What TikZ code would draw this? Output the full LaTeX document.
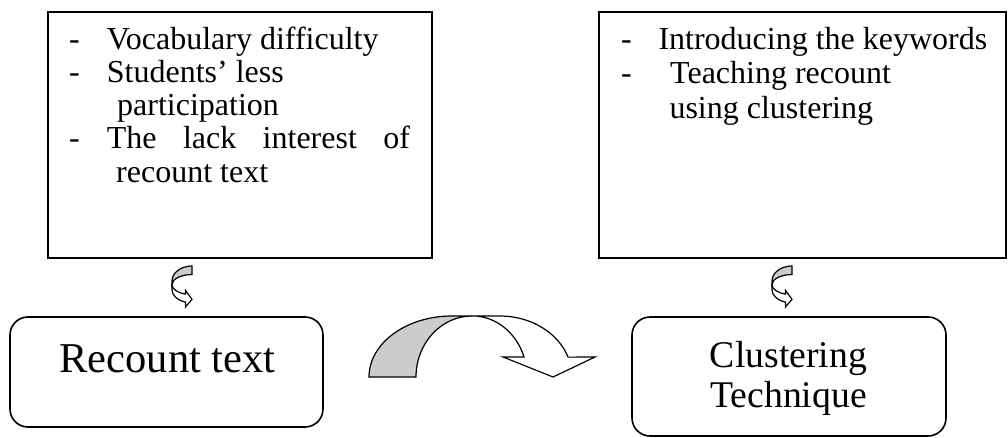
\documentclass[tikz,border=0pt]{standalone}
\usepackage{fontspec}
\setmainfont{Liberation Serif}
\begin{document}
\begin{tikzpicture}[x=1pt,y=1pt,
  box/.style={draw, line width=1.6pt, inner sep=0pt, outer sep=0pt},
  rbox/.style={box, rounded corners=18pt},
  txt/.style={anchor=base west, inner sep=0pt, font=\fontsize{32}{33}\selectfont},
  bigtxt/.style={anchor=base, inner sep=0pt, font=\fontsize{42.5}{44}\selectfont},
  midtxt/.style={anchor=base, inner sep=0pt, font=\fontsize{37.7}{40}\selectfont},
  arrowshape/.style={draw, line width=1.2pt, line join=miter},
  backface/.style={arrowshape, fill=gray!40},
  frontface/.style={arrowshape, fill=white}
]
\useasboundingbox (0,0) rectangle (1008,-438);

% frames
\node[box, minimum width=384pt, minimum height=246pt] (problems) at (240,-135) {};
\node[box, minimum width=407pt, minimum height=246pt] (actions) at (802.5,-135) {};
\node[rbox, minimum width=313pt, minimum height=110pt] (recountbox) at (166.5,-372) {};
\node[rbox, minimum width=314pt, minimum height=119pt] (clusterbox) at (789,-376.5) {};

% problem list
\node[txt] (pd1) at (69,-49.3) {-};
\node[txt] (p1) at (106.7,-49.3) {Vocabulary difficulty};
\node[txt] (pd2) at (69,-82.3) {-};
\node[txt] (p2) at (106.7,-82.3) {Students’ less};
\node[txt] (p2b) at (117,-115.3) {participation};
\node[txt] (pd3) at (69,-148.3) {-};
\node[txt] (p3) at (106.7,-148.3) {\makebox[303pt][s]{The lack interest of}};
\node[txt] (p3b) at (116,-182.3) {recount text};

% action list
\node[txt] (ad1) at (621,-49.3) {-};
\node[txt] (a1) at (658.3,-49.3) {Introducing the keywords};
\node[txt] (ad2) at (621,-83.3) {-};
\node[txt] (a2) at (670,-83.3) {Teaching recount};
\node[txt] (a2b) at (669.3,-118.3) {using clustering};

% bottom labels
\node[bigtxt] (recount) at (167.5,-372) {Recount text};
\node[midtxt] (cluster1) at (788.5,-367) {Clustering};
\node[midtxt] (cluster2) at (788.5,-407) {Technique};

% curved block arrow between the two bottom boxes
\begin{scope}[shift={(369,-377)}]
  \path[backface] (0,0) arc[start angle=180, end angle=90, x radius=83, y radius=61]
    -- (103,61) arc[start angle=90, end angle=180, x radius=56, y radius=61] -- cycle;
  \path[frontface] (103,61) -- (131,61)
    arc[start angle=90, end angle=19, x radius=72, y radius=61]
    -- (226,20) -- (184,0) -- (134,20) -- (155,20)
    arc[start angle=19, end angle=90, x radius=55, y radius=61] -- cycle;
\end{scope}

% small curved arrows under the upper frames
\foreach \sx in {192,792}{
\begin{scope}[cm={0,-0.1814,-0.328,0,(\sx,-266)}]
  \path[backface] (0,0) arc[start angle=180, end angle=90, x radius=83, y radius=61]
    -- (103,61) arc[start angle=90, end angle=180, x radius=56, y radius=61] -- cycle;
  \path[frontface] (103,61) -- (131,61)
    arc[start angle=90, end angle=19, x radius=72, y radius=61]
    -- (226,20) -- (184,0) -- (134,20) -- (155,20)
    arc[start angle=19, end angle=90, x radius=55, y radius=61] -- cycle;
\end{scope}
}
\end{tikzpicture}
\end{document}
